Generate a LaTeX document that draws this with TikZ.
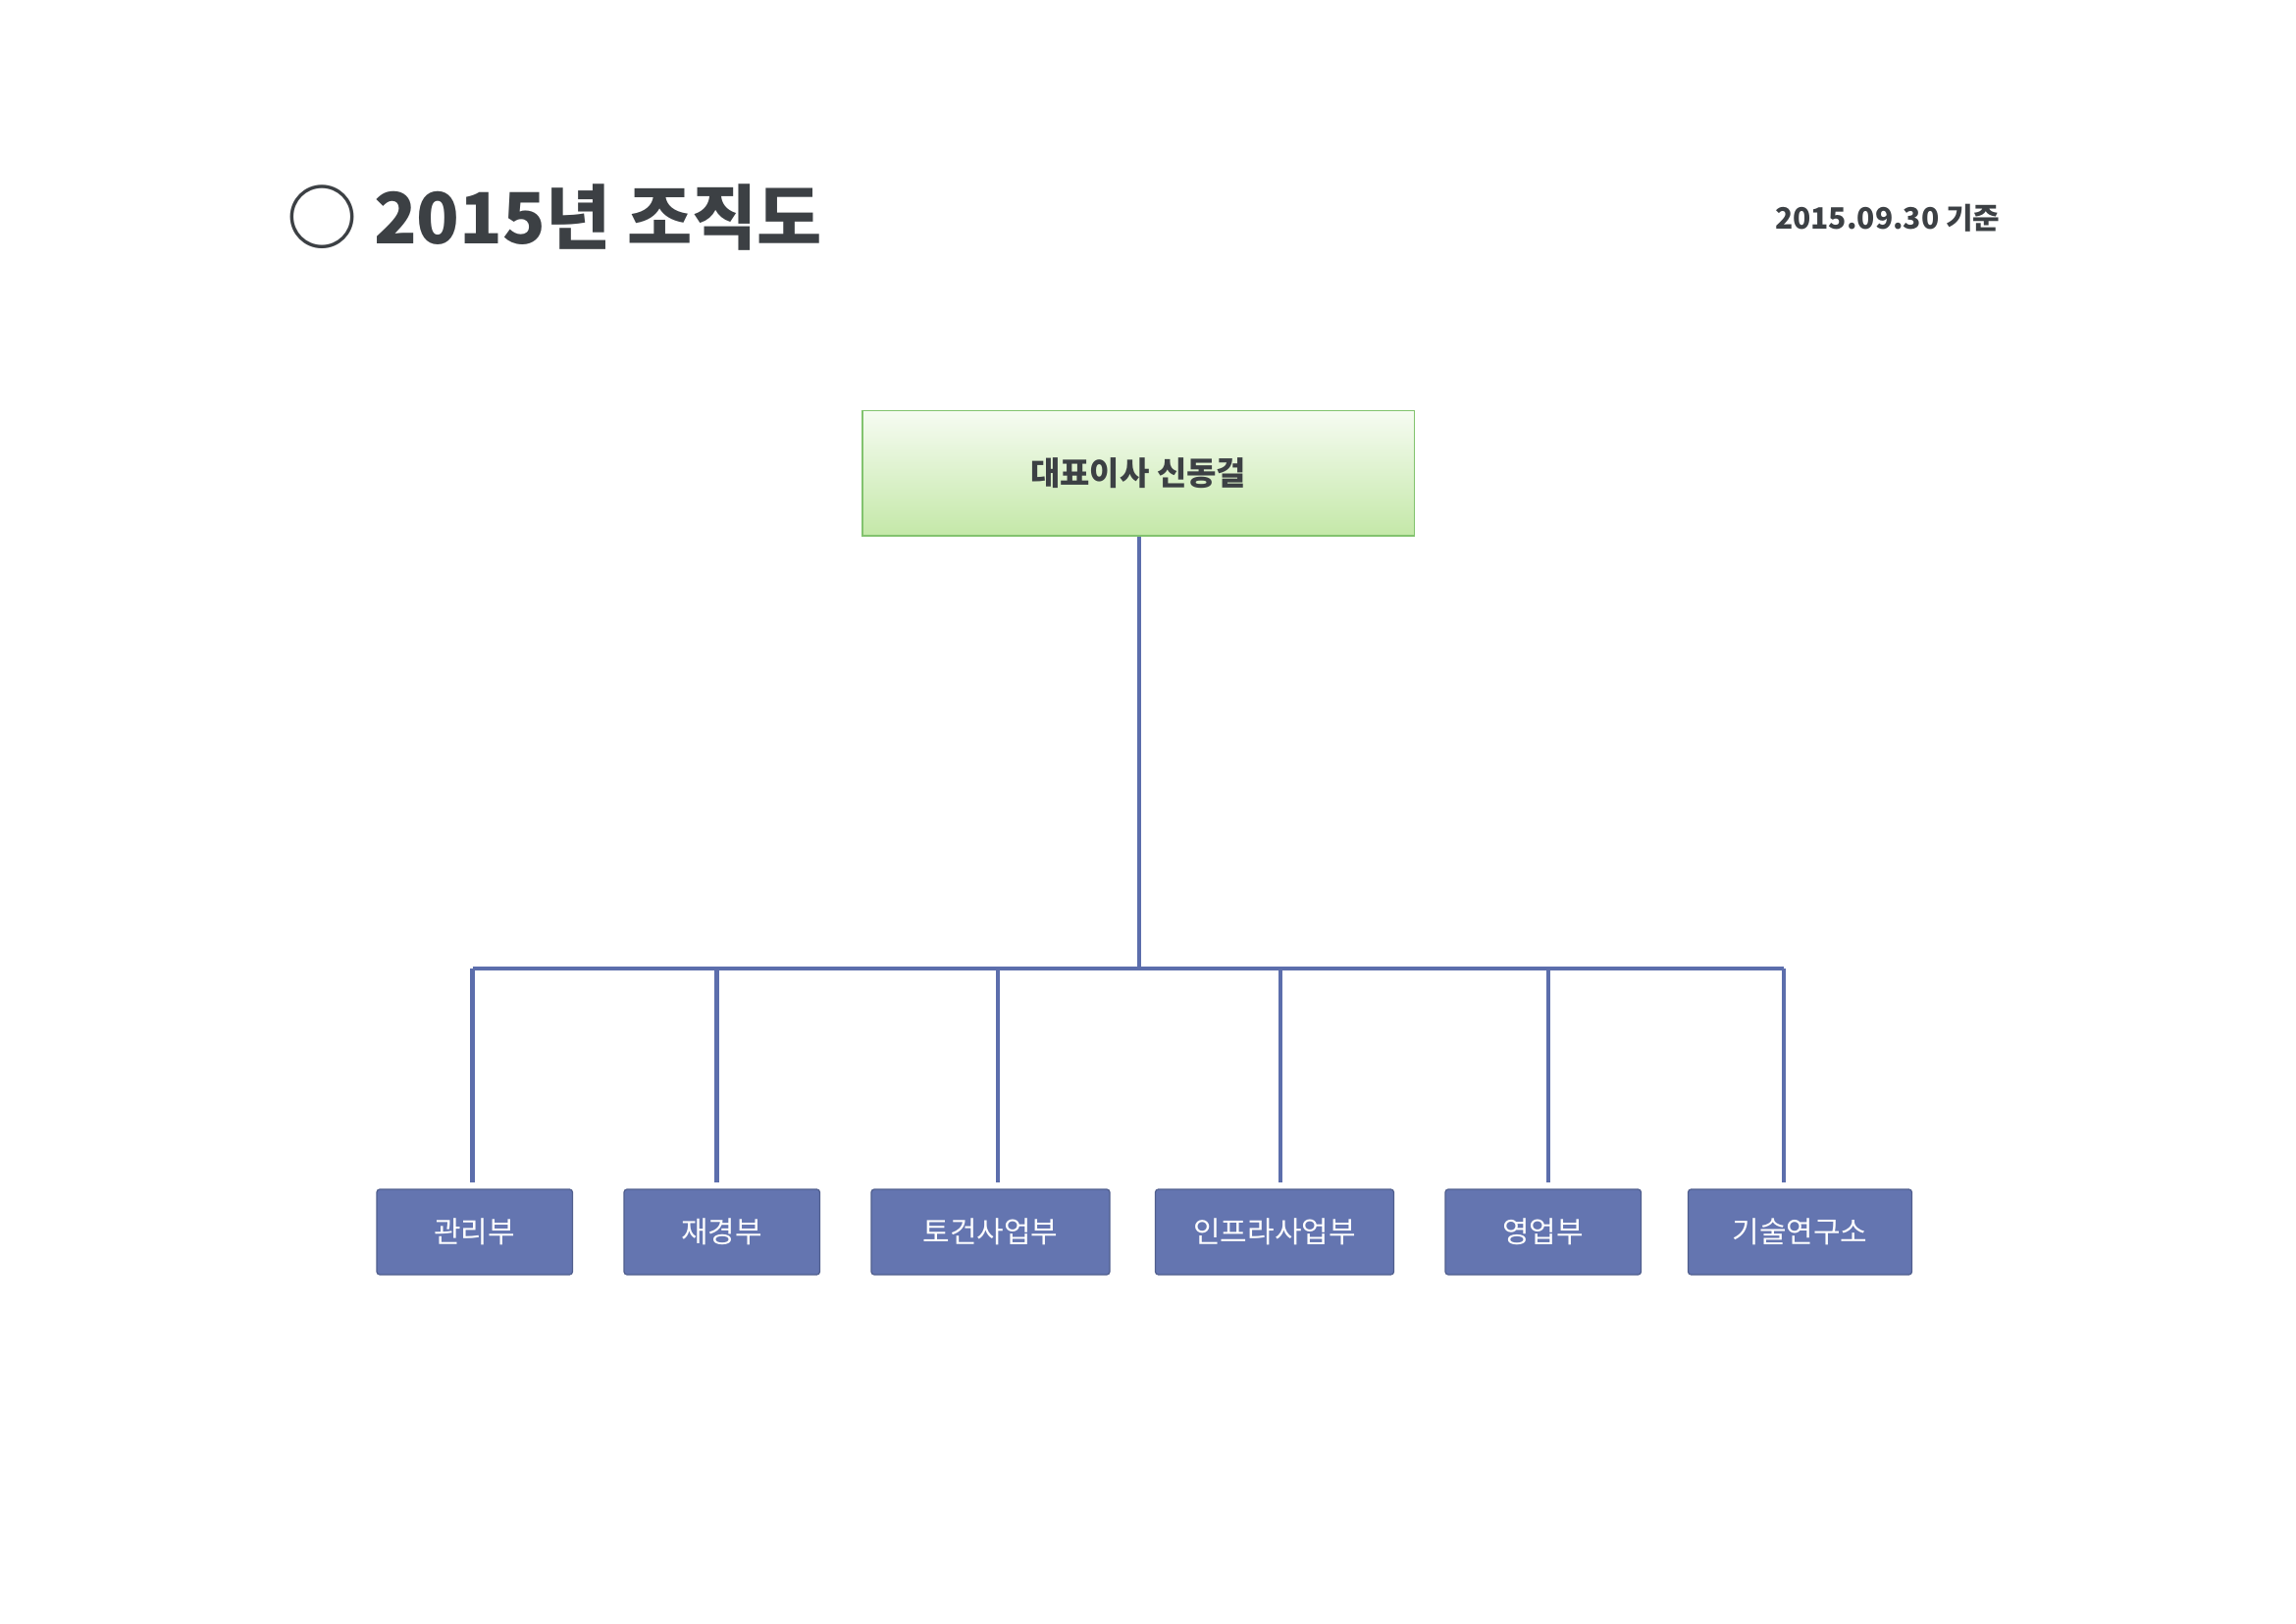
\documentclass[tikz,border=0pt]{standalone}
\usepackage{fontspec}
\setmainfont{Noto Sans CJK KR}
\usetikzlibrary{positioning}
\definecolor{deptblue}{RGB}{100,117,176}
\definecolor{linkblue}{RGB}{92,110,172}
\definecolor{ceogreen}{RGB}{196,232,168}
\definecolor{ceoedge}{RGB}{130,195,110}
\definecolor{titlegray}{RGB}{60,64,68}
\tikzset{
  dept/.style={draw=deptblue!80!black, fill=deptblue, text=white, rounded corners=1pt,
    minimum height=29pt, inner sep=0pt, font=\fontsize{10}{12}\selectfont},
  link/.style={draw=linkblue, line width=1.5pt}
}
\begin{document}
\begin{tikzpicture}[x=0.5pt,y=-0.5pt]
  \useasboundingbox (0,0) rectangle (1560,1103);
  % title and date
  \node[anchor=west, text=titlegray, font=\fontsize{24}{28}\bfseries\selectfont] (title) at (188,148) {○ 2015년 조직도};
  \node[anchor=east, text=titlegray, font=\fontsize{10}{12}\bfseries\selectfont] (date) at (1366,148) {2015.09.30 기준};
  % head
  \node[draw=ceoedge, top color=white!85!ceogreen, bottom color=ceogreen, minimum width=187.5pt,
    minimum height=42.5pt, font=\fontsize{11}{13}\bfseries\selectfont, text=titlegray] (ceo) at (773.5,321.5) {대표이사 신동걸};
  % departments
  \node[dept, minimum width=66.5pt] (admin) at (322.5,837) {관리부};
  \node[dept, minimum width=66.5pt] (finance) at (490.5,837) {재경부};
  \node[dept, minimum width=81pt] (civil) at (673,837) {토건사업부};
  \node[dept, minimum width=81pt] (infra) at (866,837) {인프라사업부};
  \node[dept, minimum width=66.5pt] (sales) at (1048.5,837) {영업부};
  \node[dept, minimum width=76pt] (lab) at (1223,837) {기술연구소};
  % tree
  \coordinate (hub) at (774,658);
  \coordinate (left) at (321,658);
  \coordinate (right) at (1212,658);
  \draw[link] (ceo.south -| hub) -- (hub);
  \draw[link] (left) -- (right);
  \foreach \d/\x in {admin/321, finance/487, civil/678, infra/870, sales/1052, lab/1212}
    \draw[link] (\x,658) -- (\x,803);
\end{tikzpicture}
\end{document}
